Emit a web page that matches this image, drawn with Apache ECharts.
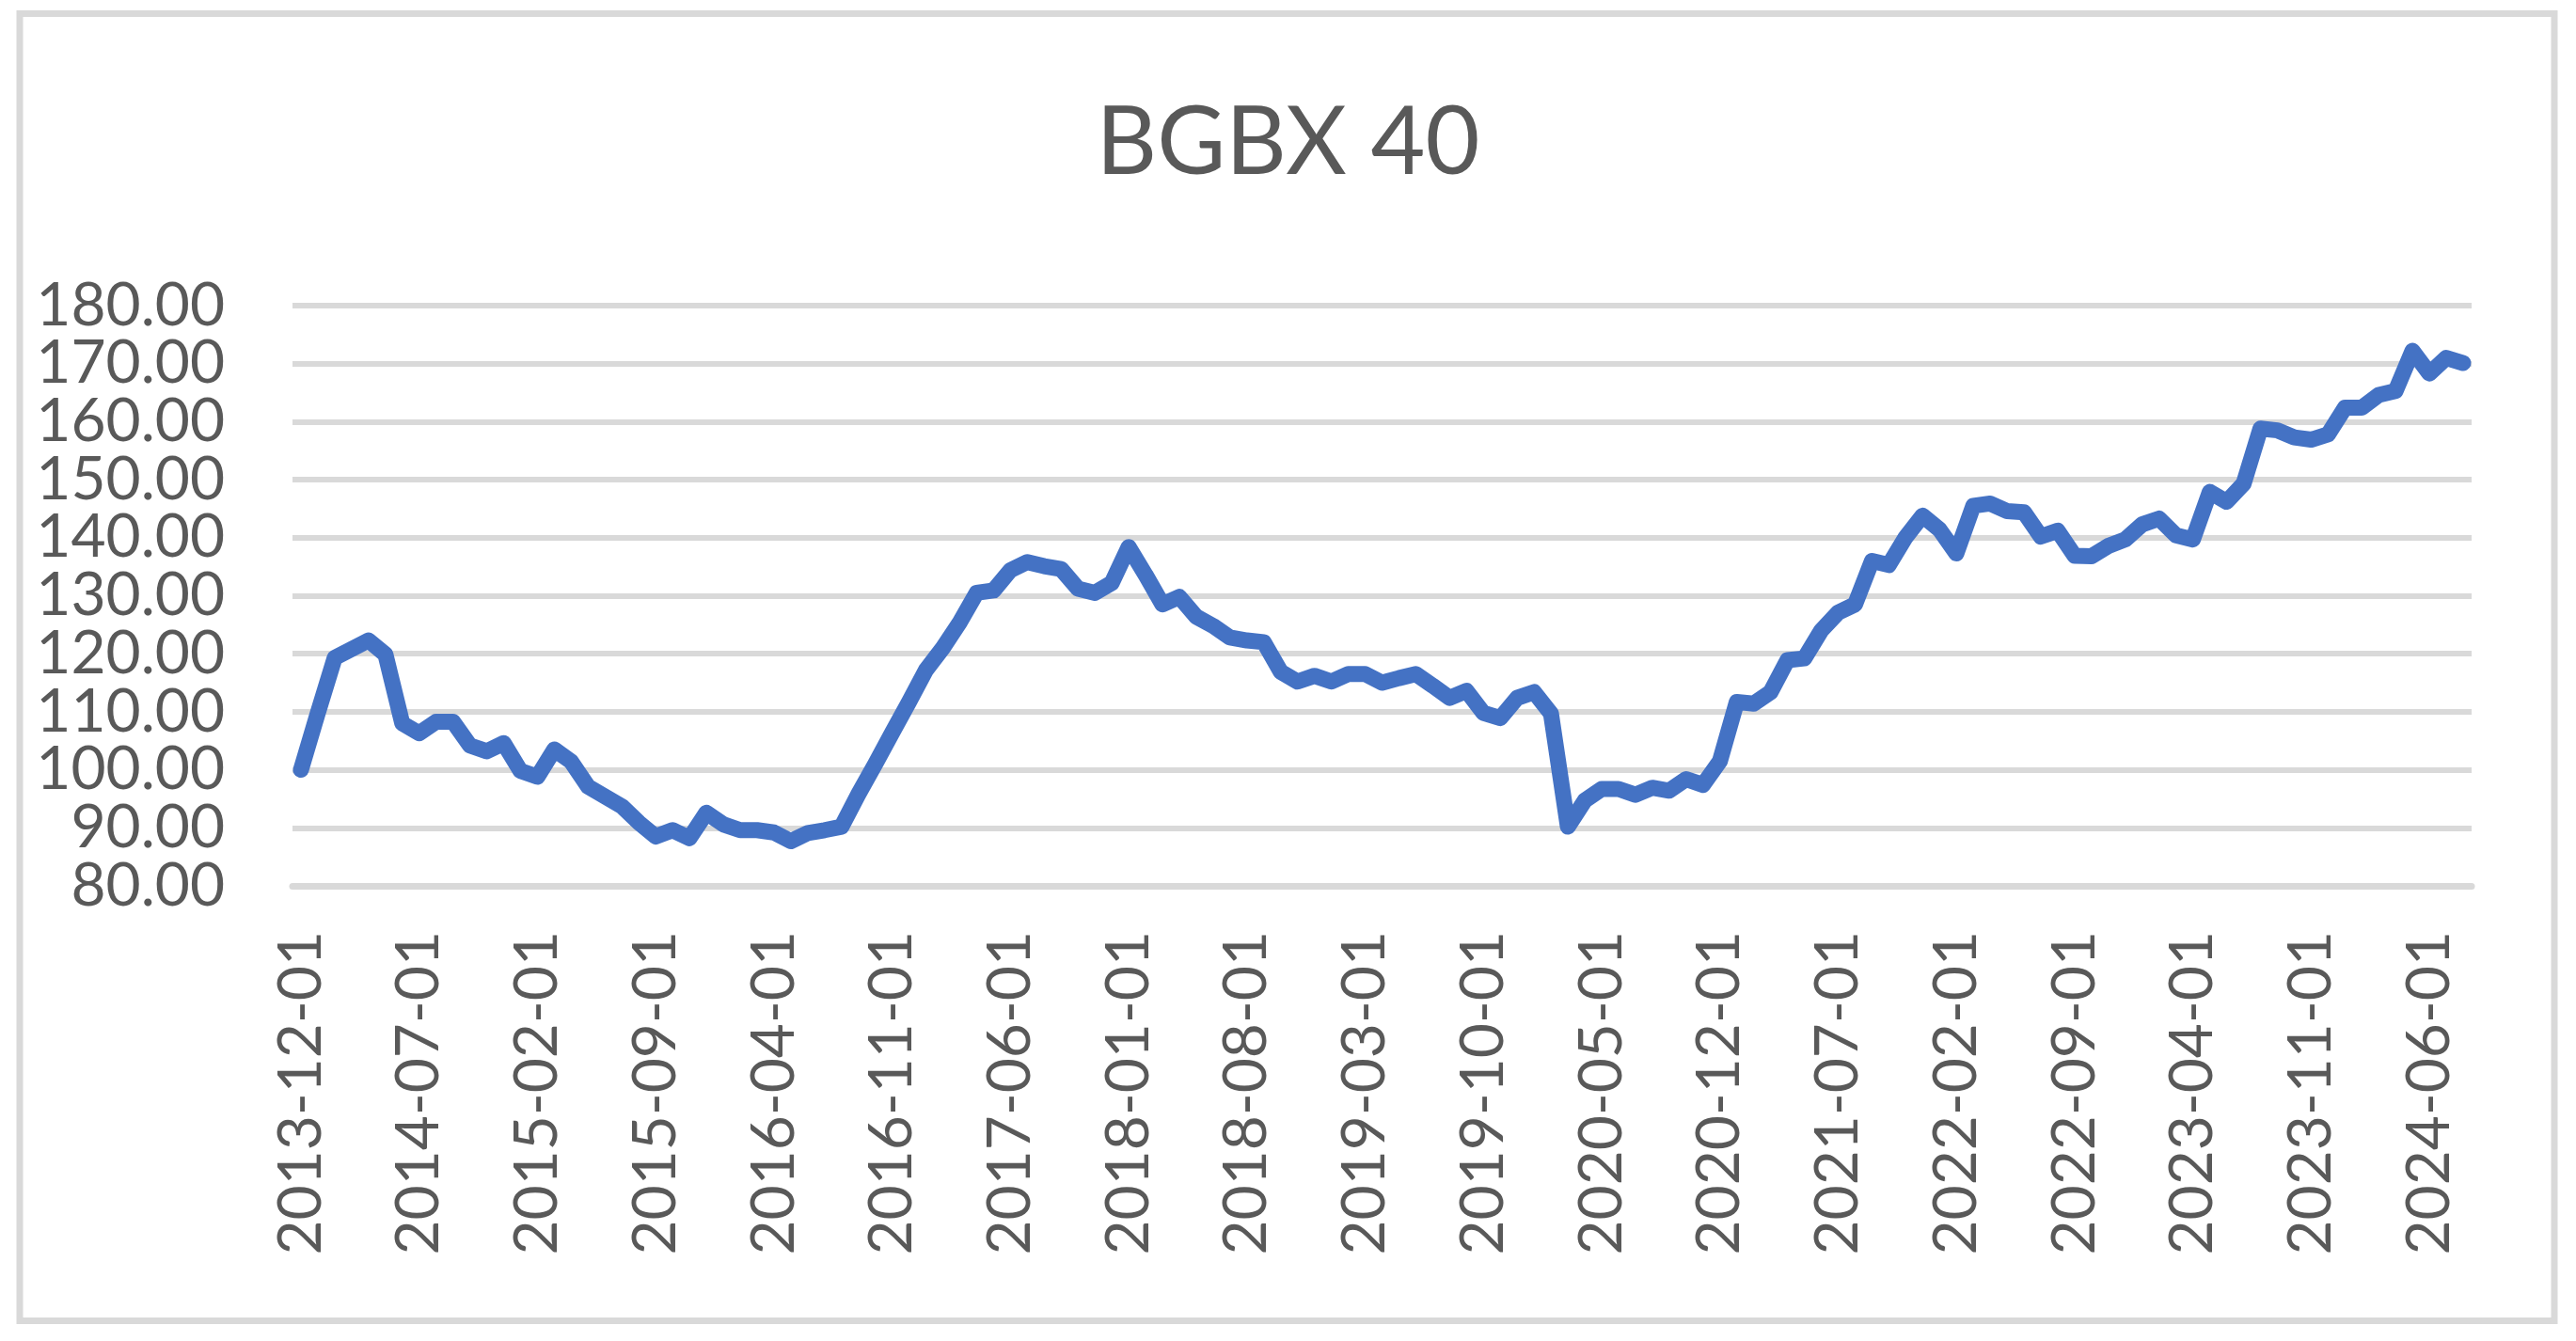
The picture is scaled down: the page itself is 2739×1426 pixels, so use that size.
<!DOCTYPE html>
<html>
<head>
<meta charset="utf-8">
<title>BGBX 40</title>
<script src="https://cdn.jsdelivr.net/npm/echarts@6/dist/echarts.min.js"></script>
<style>
  html, body { margin: 0; padding: 0; background: #fff; }
  #main { width: 2739px; height: 1426px; }
</style>
</head>
<body>
<div id="main"></div>
<script>
// monthly index values, 2013-12 .. 2024-08
var firstYear = 2013, firstMonth = 12;
var bgbx = [
  100.0, 109.8, 119.3, 120.8, 122.3, 119.9, 108.0, 106.3, 108.3, 108.3,
  104.2, 103.2, 104.6, 99.8, 98.8, 103.5, 101.4, 97.1, 95.4, 93.7,
  90.9, 88.5, 89.6, 88.2, 92.6, 90.6, 89.6, 89.6, 89.2, 87.7,
  89.1, 89.6, 90.2, 95.8, 101.0, 106.4, 111.7, 117.2, 121.0, 125.4,
  130.5, 130.9, 134.4, 135.8, 135.1, 134.6, 131.2, 130.5, 132.2, 138.4,
  133.6, 128.5, 129.8, 126.4, 124.8, 122.8, 122.3, 122.0, 116.9, 115.2,
  116.2, 115.2, 116.5, 116.5, 115.0, 115.8, 116.5, 114.5, 112.4, 113.6,
  109.8, 108.9, 112.4, 113.4, 109.7, 90.2, 94.7, 96.7, 96.7, 95.7,
  96.9, 96.4, 98.4, 97.4, 101.5, 111.7, 111.4, 113.4, 118.9, 119.2,
  124.0, 127.1, 128.5, 136.0, 135.3, 140.1, 143.8, 141.4, 137.3, 145.5,
  145.9, 144.6, 144.4, 140.2, 141.2, 136.9, 136.8, 138.6, 139.7, 142.3,
  143.3, 140.4, 139.7, 147.9, 146.2, 149.3, 158.8, 158.5, 157.3, 156.9,
  157.8, 162.4, 162.4, 164.6, 165.3, 172.2, 168.3, 171.0, 170.1
];
var yMin = 80, yMax = 180, yStep = 10;

// category labels yyyy-mm-01
var months = [];
for (var i = 0; i < bgbx.length; i++) {
  var m = firstMonth - 1 + i;
  var y = firstYear + Math.floor(m / 12);
  var mm = (m % 12) + 1;
  months.push(y + '-' + (mm < 10 ? '0' + mm : mm) + '-01');
}

var txt = '#595959';
var grey = '#D9D9D9';
var font = 'Lato, "Open Sans", sans-serif';

// plot box
var H = 1426, gTop = 325, gBottom = 484, gLeft = 311, gRight = 111;
var stepPx = (H - gTop - gBottom) / ((yMax - yMin) / yStep);

// labels are taller than one step, so the odd ones go on a second, shifted axis
var labelStyle = {
  margin: 72, color: txt, fontSize: 64, fontFamily: font,
  showMinLabel: true, showMaxLabel: true,
  formatter: function (v) { return v.toFixed(2); }
};

var myChart = echarts.init(document.getElementById('main'));
var option = {
  backgroundColor: '#fff',
  animation: false,
  title: {
    text: 'BGBX 40',
    left: 'center',
    top: 98,
    textStyle: { color: txt, fontSize: 100, fontWeight: 'normal', fontFamily: font }
  },
  graphic: [{
    type: 'rect',
    shape: { x: 21, y: 14.5, width: 2695, height: 1390 },
    style: { fill: null, stroke: grey, lineWidth: 7 },
    silent: true
  }],
  grid: [
    { left: gLeft, right: gRight, top: gTop, bottom: gBottom },
    { left: gLeft, right: gRight, top: gTop + stepPx, bottom: gBottom + stepPx }
  ],
  xAxis: [{
    type: 'category',
    gridIndex: 0,
    data: months,
    boundaryGap: true,
    axisLine: { lineStyle: { color: grey, width: 7 } },
    axisTick: { interval: 6, length: 22, lineStyle: { color: grey, width: 7 } },
    axisLabel: {
      interval: 6, rotate: 90, margin: 48,
      color: txt, fontSize: 64, fontFamily: font
    },
    splitLine: { show: false }
  }, {
    type: 'category',
    gridIndex: 1,
    data: months,
    show: false
  }],
  yAxis: [{
    type: 'value',
    gridIndex: 0,
    min: yMin, max: yMax, interval: yStep * 2,
    axisLine: { show: false },
    axisTick: { show: false },
    axisLabel: labelStyle,
    splitLine: { show: false }
  }, {
    type: 'value',
    gridIndex: 1,
    min: yMin + yStep, max: yMax - yStep, interval: yStep * 2,
    axisLine: { show: false },
    axisTick: { show: false },
    axisLabel: labelStyle,
    splitLine: { show: false }
  }, {
    // gridlines every step, no labels
    type: 'value',
    gridIndex: 0,
    min: yMin, max: yMax, interval: yStep,
    axisLine: { show: false },
    axisTick: { show: false },
    axisLabel: { show: false },
    splitLine: { lineStyle: { color: grey, width: 6 } }
  }],
  series: [{
    name: 'BGBX 40',
    type: 'line',
    xAxisIndex: 0,
    yAxisIndex: 0,
    data: bgbx,
    symbol: 'none',
    z: 3,
    lineStyle: { color: '#4472C4', width: 17, cap: 'round', join: 'round' }
  }]
};
myChart.setOption(option);
</script>
</body>
</html>
